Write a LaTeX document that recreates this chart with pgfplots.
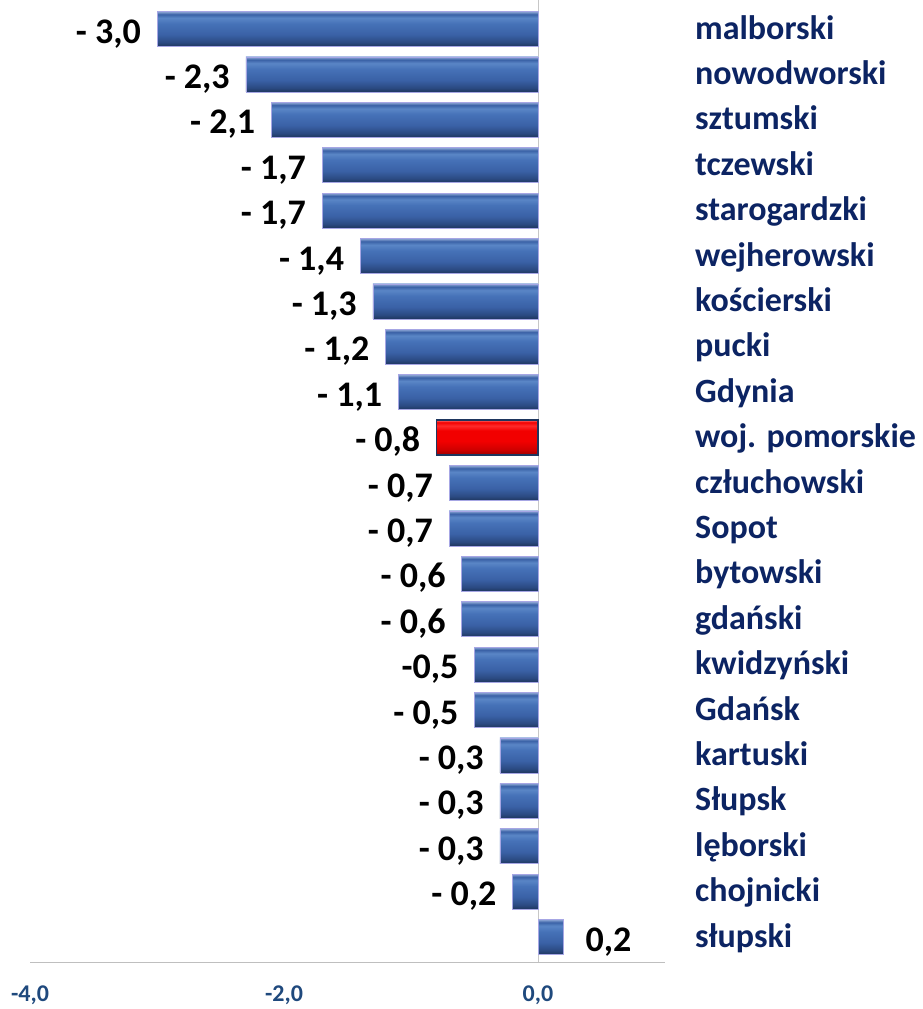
\documentclass[border=0pt]{standalone}
\usepackage{pgfplots}
\pgfplotsset{compat=1.18}
\usepackage{fontspec}
\setmainfont{Carlito}
\definecolor{catblue}{HTML}{0C2463}
\definecolor{tickblue}{HTML}{1F497D}
\definecolor{bA}{HTML}{1E365E}
\definecolor{bB}{HTML}{2B4A82}
\definecolor{bC}{HTML}{3A61A6}
\definecolor{bD}{HTML}{4672B8}
\definecolor{bE}{HTML}{5A86C6}
\definecolor{bF}{HTML}{8FA8D6}
\definecolor{rA}{HTML}{9A0000}
\definecolor{rB}{HTML}{CC0000}
\definecolor{rC}{HTML}{F20000}
\definecolor{rD}{HTML}{FF2A2A}
\definecolor{rE}{HTML}{FF7070}
\pgfdeclareverticalshading{bluebar}{100bp}{color(0bp)=(bA); color(25bp)=(bA); color(31bp)=(bB); color(42bp)=(bC); color(58bp)=(bD); color(66bp)=(bE); color(71bp)=(bC); color(75bp)=(bF); color(100bp)=(bF)}
\pgfdeclareverticalshading{redbar}{100bp}{color(0bp)=(rA); color(25bp)=(rA); color(32bp)=(rB); color(45bp)=(rC); color(60bp)=(rC); color(67bp)=(rD); color(72bp)=(rC); color(75bp)=(rE); color(100bp)=(rE)}
\pgfplotsset{
  bluebarstyle/.style={xbar, bar width=35pt, bar shift=0pt, draw=black!30!blue!35!white, line width=0.8pt, shading=bluebar},
  redbarstyle/.style={xbar, bar width=35pt, bar shift=0pt, draw=bA, line width=1.6pt, shading=redbar},
}

\begin{document}
\begin{tikzpicture}
\useasboundingbox (0,0) rectangle (923pt,1009pt);
\begin{axis}[
  at={(30pt,47pt)}, anchor=south west,
  scale only axis, width=635pt, height=962pt,
  xmin=-4, xmax=1, ymin=-0.55, ymax=20.64,
  clip=false,
  axis x line*=bottom, axis y line=none,
  axis line style={draw=black!25, line width=1pt, -},
  xtick={-4,-2,0}, xticklabels={{-4,0},{-2,0},{0,0}},
  major tick length=0pt,
  xticklabel style={font=\fontsize{24}{28}\selectfont\bfseries, text=tickblue, yshift=-20pt},
]
\draw[black!22, line width=1pt] (axis cs:0,-0.55) -- (axis cs:0,20.64);
\addplot[bluebarstyle] coordinates {(-3.0,20)};
\addplot[bluebarstyle] coordinates {(-2.3,19)};
\addplot[bluebarstyle] coordinates {(-2.1,18)};
\addplot[bluebarstyle] coordinates {(-1.7,17)};
\addplot[bluebarstyle] coordinates {(-1.7,16)};
\addplot[bluebarstyle] coordinates {(-1.4,15)};
\addplot[bluebarstyle] coordinates {(-1.3,14)};
\addplot[bluebarstyle] coordinates {(-1.2,13)};
\addplot[bluebarstyle] coordinates {(-1.1,12)};
\addplot[redbarstyle] coordinates {(-0.8,11)};
\addplot[bluebarstyle] coordinates {(-0.7,10)};
\addplot[bluebarstyle] coordinates {(-0.7,9)};
\addplot[bluebarstyle] coordinates {(-0.6,8)};
\addplot[bluebarstyle] coordinates {(-0.6,7)};
\addplot[bluebarstyle] coordinates {(-0.5,6)};
\addplot[bluebarstyle] coordinates {(-0.5,5)};
\addplot[bluebarstyle] coordinates {(-0.3,4)};
\addplot[bluebarstyle] coordinates {(-0.3,3)};
\addplot[bluebarstyle] coordinates {(-0.3,2)};
\addplot[bluebarstyle] coordinates {(-0.2,1)};
\addplot[bluebarstyle] coordinates {(0.2,0)};

\begin{scope}[every node/.style={font=\fontsize{36}{40}\selectfont\bfseries, inner sep=0pt, anchor=base east, xshift=-16pt, yshift=-14pt}]
\node at (axis cs:-3.0,20) {- 3,0};
\node at (axis cs:-2.3,19) {- 2,3};
\node at (axis cs:-2.1,18) {- 2,1};
\node at (axis cs:-1.7,17) {- 1,7};
\node at (axis cs:-1.7,16) {- 1,7};
\node at (axis cs:-1.4,15) {- 1,4};
\node at (axis cs:-1.3,14) {- 1,3};
\node at (axis cs:-1.2,13) {- 1,2};
\node at (axis cs:-1.1,12) {- 1,1};
\node at (axis cs:-0.8,11) {- 0,8};
\node at (axis cs:-0.7,10) {- 0,7};
\node at (axis cs:-0.7,9) {- 0,7};
\node at (axis cs:-0.6,8) {- 0,6};
\node at (axis cs:-0.6,7) {- 0,6};
\node at (axis cs:-0.5,6) {-0,5};
\node at (axis cs:-0.5,5) {- 0,5};
\node at (axis cs:-0.3,4) {- 0,3};
\node at (axis cs:-0.3,3) {- 0,3};
\node at (axis cs:-0.3,2) {- 0,3};
\node at (axis cs:-0.2,1) {- 0,2};
\end{scope}
\node[font=\fontsize{36}{40}\selectfont\bfseries, inner sep=0pt, anchor=base west, xshift=22pt, yshift=-14pt] at (axis cs:0.2,0) {0,2};

\begin{scope}[every node/.style={font=\fontsize{34}{38}\selectfont\bfseries, text=catblue, inner sep=0pt, anchor=base west, yshift=-10pt}]
\node at (axis cs:1.236,20) {malborski};
\node at (axis cs:1.236,19) {nowodworski};
\node at (axis cs:1.236,18) {sztumski};
\node at (axis cs:1.236,17) {tczewski};
\node at (axis cs:1.236,16) {starogardzki};
\node at (axis cs:1.236,15) {wejherowski};
\node at (axis cs:1.236,14) {kościerski};
\node at (axis cs:1.236,13) {pucki};
\node at (axis cs:1.236,12) {Gdynia};
\node at (axis cs:1.236,11) {woj. pomorskie};
\node at (axis cs:1.236,10) {człuchowski};
\node at (axis cs:1.236,9) {Sopot};
\node at (axis cs:1.236,8) {bytowski};
\node at (axis cs:1.236,7) {gdański};
\node at (axis cs:1.236,6) {kwidzyński};
\node at (axis cs:1.236,5) {Gdańsk};
\node at (axis cs:1.236,4) {kartuski};
\node at (axis cs:1.236,3) {Słupsk};
\node at (axis cs:1.236,2) {lęborski};
\node at (axis cs:1.236,1) {chojnicki};
\node at (axis cs:1.236,0) {słupski};
\end{scope}
\end{axis}
\end{tikzpicture}
\end{document}
